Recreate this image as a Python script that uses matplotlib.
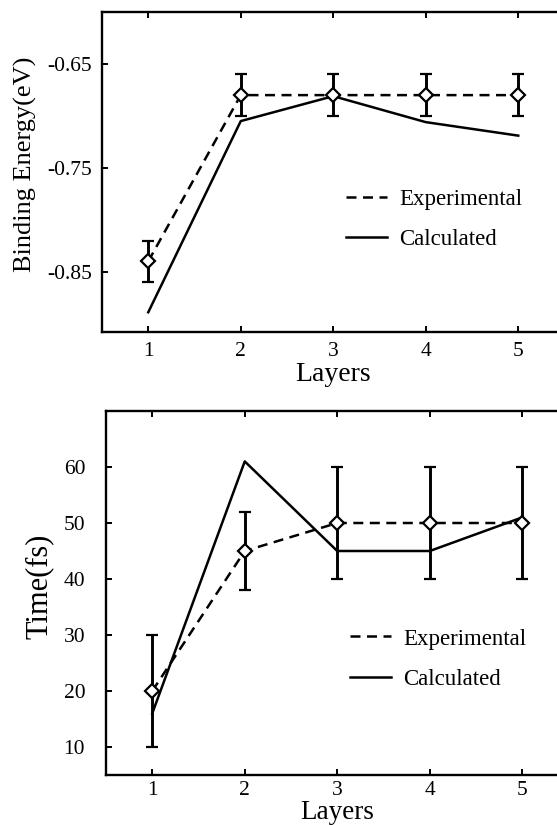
import matplotlib
matplotlib.use("Agg")
import matplotlib.pyplot as plt

plt.rcParams['font.family'] = ['Liberation Serif', 'DejaVu Serif']
plt.rcParams['axes.unicode_minus'] = False

layers = [1, 2, 3, 4, 5]

# Top panel: binding energy (eV)
be_exp = [-0.84, -0.68, -0.68, -0.68, -0.68]
be_exp_err = [0.02, 0.02, 0.02, 0.02, 0.02]
be_calc = [-0.889, -0.705, -0.681, -0.706, -0.719]
be_yticks = [-0.85, -0.75, -0.65]
be_yticklabels = ['-0.85', '-0.75', '-0.65']

# Bottom panel: time (fs)
t_exp = [20, 45, 50, 50, 50]
t_err_low = [10, 7, 10, 10, 10]
t_err_high = [10, 7, 10, 10, 10]
t_calc = [16, 61, 45, 45, 51]
t_yticks = [10, 20, 30, 40, 50, 60]

W, H = 557, 825
fig = plt.figure(figsize=(W / 100, H / 100), dpi=100)

def axes_px(left, top, right, bottom):
    return fig.add_axes([left / W, 1 - bottom / H, (right - left) / W, (bottom - top) / H])

ax1 = axes_px(102, 12, 102 + 462.5, 332)
ax2 = axes_px(106, 411, 106 + 462.5, 775)

dash = (0, (4, 2.6))
lw = 1.8

def style(ax, ypad, xpad):
    for s in ax.spines.values():
        s.set_linewidth(1.7)
    ax.tick_params(direction='in', top=True, right=False, length=4, width=1.4,
                   labelsize=15.5)
    ax.tick_params(axis='y', pad=ypad)
    ax.tick_params(axis='x', pad=xpad)
    ax.set_xlim(0.5, 5.5)
    ax.set_xticks(layers)

# --- top ---
ax1.plot(layers, be_calc, color='black', lw=lw, label='Calculated', zorder=2)
ax1.errorbar(layers, be_exp, yerr=be_exp_err, color='black', lw=lw, ls=dash,
             marker='D', ms=7, mfc='white', mec='black', mew=1.6,
             ecolor='black', elinewidth=2.1, capsize=4, capthick=2.1, zorder=3)
ax1.set_ylim(-0.908, -0.60)
ax1.set_yticks(be_yticks)
ax1.set_yticklabels(be_yticklabels)
style(ax1, 7, 7)
ax1.set_ylabel('Binding Energy(eV)', fontsize=19)
ax1.yaxis.set_label_coords(-0.14, 0.525)
ax1.set_xlabel('Layers', fontsize=20)
ax1.xaxis.set_label_coords(0.5, -0.094)
h1 = [plt.Line2D([], [], color='black', lw=lw, ls=dash),
      plt.Line2D([], [], color='black', lw=lw)]
ax1.legend(h1, ['Experimental', 'Calculated'], frameon=False, fontsize=16.5,
           loc='center left', bbox_to_anchor=(0.528, 0.352), borderaxespad=0,
           borderpad=0, handlelength=1.8, handletextpad=0.5, labelspacing=0.85)

# --- bottom ---
ax2.plot(layers, t_calc, color='black', lw=lw, zorder=2)
ax2.errorbar(layers, t_exp, yerr=[t_err_low, t_err_high], color='black', lw=lw, ls=dash,
             marker='D', ms=7, mfc='white', mec='black', mew=1.6,
             ecolor='black', elinewidth=2.1, capsize=4, capthick=2.1, zorder=3)
ax2.set_ylim(5, 70)
ax2.set_yticks(t_yticks)
style(ax2, 15, 4)
ax2.set_ylabel('Time(fs)', fontsize=22)
ax2.yaxis.set_label_coords(-0.112, 0.518)
ax2.set_xlabel('Layers', fontsize=19.5)
ax2.xaxis.set_label_coords(0.5, -0.07)
ax2.legend(h1, ['Experimental', 'Calculated'], frameon=False, fontsize=16.5,
           loc='center left', bbox_to_anchor=(0.528, 0.318), borderaxespad=0,
           borderpad=0, handlelength=1.8, handletextpad=0.5, labelspacing=0.85)

fig.savefig('out.png', dpi=100)
